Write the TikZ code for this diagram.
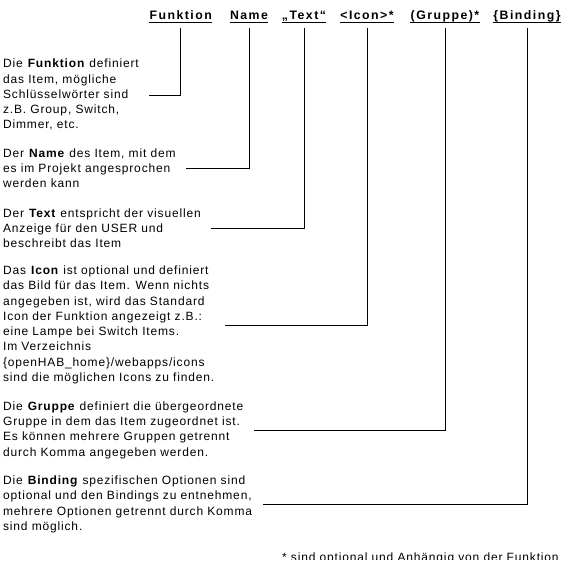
\documentclass[tikz,border=0pt]{standalone}
\usepackage{fontspec}
\setmainfont{Liberation Sans}[LetterSpace=7]
\newfontfamily\headfont{Liberation Sans}[LetterSpace=12]
\begin{document}
\begin{tikzpicture}[x=1pt,y=1pt,line width=0.8pt,
    kopf/.style={inner sep=0pt,anchor=base,font=\headfont\bfseries\fontsize{12.3}{14}\selectfont},
    absatz/.style={inner sep=0pt,anchor=north west,align=left,font=\fontsize{12}{15.25}\selectfont}]
        \useasboundingbox (0,0) rectangle (567,567);
        % Kopfzeile
        \node[kopf] (hFunktion) at (180.7,547.5) {Funktion};
        \node[kopf] (hName) at (249,547.5) {Name};
        \node[kopf] (hText) at (304,547.5) {„Text“};
        \node[kopf] (hIcon) at (367,547.5) {<Icon>*};
        \node[kopf] (hGruppe) at (445,547.5) {(Gruppe)*};
        \node[kopf] (hBinding) at (527,547.5) {\{Binding\}};
        \foreach \h in {hFunktion,hName,hText,hIcon,hGruppe,hBinding}{
        \draw ([yshift=-3pt]\h.base west)--([yshift=-3pt]\h.base east);
        }
        % Erklaerungen
        \node[absatz] (pFunktion) at (2.7,508.1) {Die \textbf{Funktion} definiert\\das Item, mögliche\\Schlüsselwörter sind\\z.B. Group, Switch,\\Dimmer, etc.};
        \node[absatz] (pName) at (2.7,418.7) {Der \textbf{Name} des Item, mit dem\\es im Projekt angesprochen\\werden kann};
        \node[absatz] (pText) at (2.7,358.7) {Der \textbf{Text} entspricht der visuellen\\Anzeige für den USER und\\beschreibt das Item};
        \node[absatz] (pIcon) at (2.7,301.4) {Das \textbf{Icon} ist optional und definiert\\das Bild für das Item. Wenn nichts\\angegeben ist, wird das Standard\\Icon der Funktion angezeigt z.B.:\\eine Lampe bei Switch Items.\\Im Verzeichnis\\\{openHAB\_home\}/webapps/icons\\sind die möglichen Icons zu finden.};
        \node[absatz] (pGruppe) at (2.7,165.7) {Die \textbf{Gruppe} definiert die übergeordnete\\Gruppe in dem das Item zugeordnet ist.\\Es können mehrere Gruppen getrennt\\durch Komma angegeben werden.};
        \node[absatz] (pBinding) at (2.7,91.4) {Die \textbf{Binding} spezifischen Optionen sind\\optional und den Bindings zu entnehmen,\\mehrere Optionen getrennt durch Komma\\sind möglich.};
        \foreach \h/\p in {hFunktion/pFunktion,hName/pName,hText/pText,hIcon/pIcon,hGruppe/pGruppe,hBinding/pBinding}{
        \draw ([yshift=-8.5pt]\h.base)|-([xshift=10pt]\p.east);
        }
        % Fussnote, unten abgeschnitten
        \begin{scope}
        \clip (0,7) rectangle (567,567);
        \node[absatz,anchor=base west] (fussnote) at (281.7,5.5) {* sind optional und Anhängig von der Funktion};
        \end{scope}
\end{tikzpicture}
\end{document}
